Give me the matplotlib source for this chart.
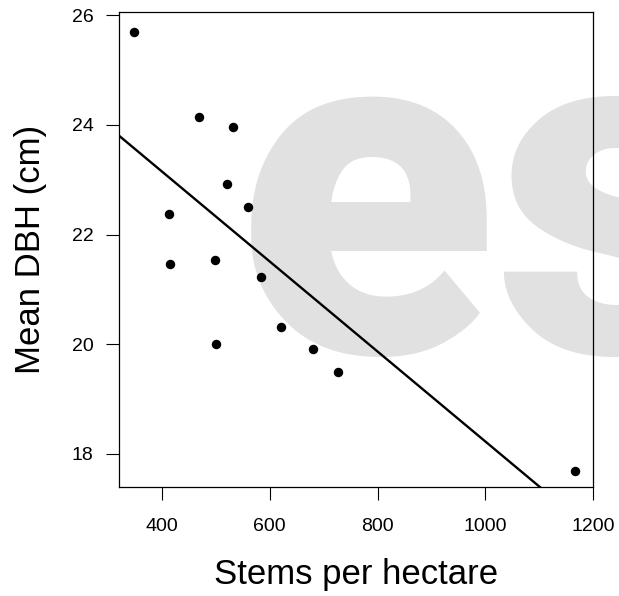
import numpy as np
import matplotlib.pyplot as plt

# stand data
stems = [348.6, 469.3, 532.4, 520.2, 559.2, 413.0, 414.9, 498.4,
         583.9, 621.0, 500.3, 679.9, 727.5, 1165.8]
dbh = [25.70, 24.15, 23.97, 22.93, 22.51, 22.37, 21.46, 21.53,
       21.22, 20.31, 20.00, 19.91, 19.49, 17.69]

# fitted line: dbh = a + b * stems
fit_a = 26.43
fit_b = -0.008203

xticks = [400, 600, 800, 1000, 1200]
yticks = [18, 20, 22, 24, 26]

plt.rcParams['font.family'] = ['Liberation Sans', 'DejaVu Sans']

fig = plt.figure(figsize=(6.19, 5.96), dpi=100)
ax = fig.add_axes([119/619, 1 - 487.3/596, 474/619, 475.3/596])
ax.patch.set_alpha(0)

# grey watermark behind the plot
fig.text(237/619, 1 - 352/596, 'es', fontsize=343, fontweight='black',
         family=['Roboto', 'DejaVu Sans'],
         color='#e1e1e1', ha='left', va='baseline', zorder=-1)

xs = np.array([0, 1400])
ax.plot(xs, fit_a + fit_b * xs, color='black', lw=1.7, zorder=2)
ax.plot(stems, dbh, 'o', color='black', ms=5.8, zorder=3)

ax.set_xlim(320.1, 1200)
ax.set_ylim(17.39, 26.06)
ax.set_xticks(xticks)
ax.set_yticks(yticks)
ax.tick_params(direction='out', length=9.4, width=0.8, labelsize=14)
ax.tick_params(axis='x', pad=13)
ax.tick_params(axis='y', pad=9)
for s in ax.spines.values():
    s.set_linewidth(0.9)

ax.set_xlabel('Stems per hectare', fontsize=25, labelpad=16)
ax.set_ylabel('Mean DBH (cm)', fontsize=25, labelpad=18)

fig.savefig('out.png', dpi=100)
